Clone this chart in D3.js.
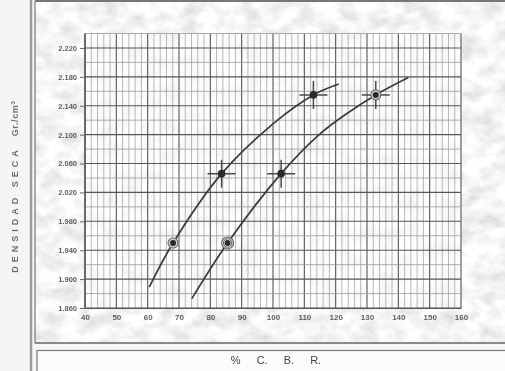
<!DOCTYPE html>
<html>
<head>
<meta charset="utf-8">
<script src="https://cdn.jsdelivr.net/npm/d3@7"></script>
<style>
  html, body { margin: 0; padding: 0; background: #f3f3f3; }
  svg { display: block; }
  text { font-family: "Liberation Sans", Arial, sans-serif; }
</style>
</head>
<body>
<svg id="chart" width="505" height="371"></svg>
<script>
// Compaction test: dry density vs. CBR, two compaction energies
const xTicks = [40, 50, 60, 70, 80, 90, 100, 110, 120, 130, 140, 150, 160];
const yTicks = [1.860, 1.900, 1.940, 1.980, 2.020, 2.060, 2.100, 2.140, 2.180, 2.220];

// Test points (CBR %, dry density g/cm3)
const pointsA_cbr  = [68.1, 83.6, 112.9];
const pointsA_dens = [1.950, 2.046, 2.155];
const pointsB_cbr  = [85.5, 102.6, 132.8];
const pointsB_dens = [1.950, 2.046, 2.155];

// Hand-fitted curves through the test points, with their end extensions
const curveA_cbr  = [60.5, 68.1, 83.6, 100.0, 112.9, 121.0];
const curveA_dens = [1.889, 1.950, 2.046, 2.115, 2.155, 2.170];
const curveB_cbr  = [74.1, 85.5, 102.6, 115.0, 123.5, 132.8, 143.2];
const curveB_dens = [1.873, 1.950, 2.046, 2.101, 2.129, 2.155, 2.179];

// Marker style of each test point
const pointsA_mark = ["ring", "cross", "cross"];
const pointsB_mark = ["double", "cross", "crossring"];

const svg = d3.select("#chart");
const W = 505, H = 371;

// Paper texture
const defs = svg.append("defs");
function marbleFilter(id, freq, seed, gain, offset) {
  const f = defs.append("filter").attr("id", id)
    .attr("x", 0).attr("y", 0).attr("width", "100%").attr("height", "100%");
  f.append("feTurbulence").attr("type", "fractalNoise")
    .attr("baseFrequency", freq).attr("numOctaves", 5).attr("seed", seed);
  f.append("feColorMatrix").attr("type", "matrix")
    .attr("values", `${gain} 0 0 0 ${offset}  ${gain} 0 0 0 ${offset}  ${gain} 0 0 0 ${offset}  0 0 0 0 1`);
  f.append("feComposite").attr("in2", "SourceGraphic").attr("operator", "in");
}
marbleFilter("marble", "0.05 0.07", 7, 0.55, 0.64);
marbleFilter("marbleLight", "0.05 0.07", 11, 0.22, 0.86);

const soft = defs.append("filter").attr("id", "soft");
soft.append("feGaussianBlur").attr("stdDeviation", 0.45);

// Page background and frames
svg.append("rect").attr("width", W).attr("height", H).attr("fill", "#f5f5f5");
svg.append("rect").attr("x", 35).attr("y", 1).attr("width", W - 35).attr("height", 342)
  .attr("fill", "#fff").attr("filter", "url(#marble)");
svg.append("line").attr("x1", 31).attr("x2", 31).attr("y1", 0).attr("y2", H)
  .attr("stroke", "#9a9a9a").attr("stroke-width", 2.5);
svg.append("line").attr("x1", 35).attr("x2", 35).attr("y1", 1).attr("y2", 343)
  .attr("stroke", "#777").attr("stroke-width", 1.2);
svg.append("line").attr("x1", 35).attr("x2", W).attr("y1", 1).attr("y2", 1)
  .attr("stroke", "#777").attr("stroke-width", 2);
svg.append("line").attr("x1", 35).attr("x2", W).attr("y1", 343).attr("y2", 343)
  .attr("stroke", "#666").attr("stroke-width", 1.5);
svg.append("rect").attr("x", 37).attr("y", 350.5).attr("width", W - 36).attr("height", 22)
  .attr("fill", "#fbfbfb").attr("stroke", "#777").attr("stroke-width", 1.2);

// Scales
const x = d3.scaleLinear().domain([40, 160]).range([85, 461]);
const y = d3.scaleLinear().domain([1.860, 2.240]).range([308, 33.5]);

const g = svg.append("g").attr("filter", "url(#soft)");

// Plot area
g.append("rect").attr("x", x(40)).attr("y", y(2.24))
  .attr("width", x(160) - x(40)).attr("height", y(1.86) - y(2.24))
  .attr("fill", "#fff").attr("filter", "url(#marbleLight)");

// Grid: vertical lines every 2 %, heavier every 10 %
const vMinor = d3.range(40, 160.1, 2);
g.append("g").selectAll("line").data(vMinor).join("line")
  .attr("x1", d => x(d)).attr("x2", d => x(d))
  .attr("y1", y(2.24)).attr("y2", y(1.86))
  .attr("stroke", d => d % 10 === 0 ? "#555" : "#999")
  .attr("stroke-width", d => d % 10 === 0 ? 1.1 : 0.7);

// Grid: horizontal lines every 0.02, heavier every 0.04
const hLines = d3.range(0, 20).map(i => +(1.86 + i * 0.02).toFixed(3));
g.append("g").selectAll("line").data(hLines).join("line")
  .attr("x1", x(40)).attr("x2", x(160))
  .attr("y1", d => y(d)).attr("y2", d => y(d))
  .attr("stroke", (d, i) => i % 2 === 0 ? "#555" : "#999")
  .attr("stroke-width", (d, i) => i % 2 === 0 ? 1.1 : 0.8);

// Axes
const yAxis = d3.axisLeft(y).tickValues(yTicks).tickFormat(d3.format(".3f"))
  .tickSize(5).tickPadding(3);
const ya = g.append("g").attr("transform", `translate(${x(40)},0)`).call(yAxis);
ya.select(".domain").attr("stroke", "#555").attr("stroke-width", 1.4)
  .attr("d", `M0,${y(2.24)}V${y(1.86)}`);
ya.selectAll(".tick line").attr("stroke", "#666");
ya.selectAll(".tick text").attr("fill", "#444").attr("font-size", 7.5)
  .attr("font-weight", "bold").attr("opacity", 0.85)
  .attr("font-family", "Liberation Sans, Arial, sans-serif");

const xAxis = d3.axisBottom(x).tickValues(xTicks).tickSize(0).tickPadding(6);
const xa = g.append("g").attr("transform", `translate(0,${y(1.86)})`).call(xAxis);
xa.select(".domain").attr("stroke", "#555").attr("stroke-width", 1.2);
xa.selectAll(".tick text").attr("fill", "#444").attr("font-size", 8)
  .attr("font-weight", "bold").attr("opacity", 0.85)
  .attr("font-family", "Liberation Sans, Arial, sans-serif");

// Curves
const line = d3.line().x(d => x(d[0])).y(d => y(d[1])).curve(d3.curveCatmullRom.alpha(0.5));
[[curveA_cbr, curveA_dens], [curveB_cbr, curveB_dens]].forEach(([cx, cy]) => {
  g.append("path").datum(d3.zip(cx, cy)).attr("d", line)
    .attr("fill", "none").attr("stroke", "#3a3a3a").attr("stroke-width", 1.7);
});

// Test point markers
function drawMarkers(cbr, dens, marks) {
  cbr.forEach((c, i) => {
    const m = g.append("g").attr("transform", `translate(${x(c)},${y(dens[i])})`);
    const kind = marks[i];
    if (kind === "cross" || kind === "crossring") {
      m.append("path").attr("d", "M-14,0H14M0,-14V14")
        .attr("stroke", "#4a4a4a").attr("stroke-width", 1.5);
    }
    if (kind === "ring" || kind === "double" || kind === "crossring") {
      m.append("circle").attr("r", kind === "double" ? 6 : 5)
        .attr("fill", "#d0d0d0").attr("stroke", "#6a6a6a").attr("stroke-width", 1.1);
    }
    if (kind === "double") {
      m.append("circle").attr("r", 4.2).attr("fill", "#efefef")
        .attr("stroke", "#555").attr("stroke-width", 0.9);
    }
    m.append("circle").attr("r", kind === "cross" ? 3.8 : 3)
      .attr("fill", "#2a2a2a");
  });
}
drawMarkers(pointsA_cbr, pointsA_dens, pointsA_mark);
drawMarkers(pointsB_cbr, pointsB_dens, pointsB_mark);

// Axis titles
const yt = svg.append("text")
  .attr("transform", "translate(18,187) rotate(-90)")
  .attr("text-anchor", "middle").attr("fill", "#555")
  .attr("font-size", 9).attr("font-weight", "bold").attr("opacity", 0.85)
  .attr("filter", "url(#soft)");
yt.append("tspan").attr("letter-spacing", "4px").text("DENSIDAD  SECA");
yt.append("tspan").attr("dx", 10).attr("letter-spacing", "0.6px").text("Gr./cm");
yt.append("tspan").attr("dy", -3).attr("font-size", 6).text("3");

svg.append("text").attr("x", 276).attr("y", 364)
  .attr("text-anchor", "middle").attr("fill", "#444")
  .attr("font-size", 11).attr("word-spacing", "13px")
  .attr("filter", "url(#soft)")
  .text("%  C.  B.  R.");
</script>
</body>
</html>
